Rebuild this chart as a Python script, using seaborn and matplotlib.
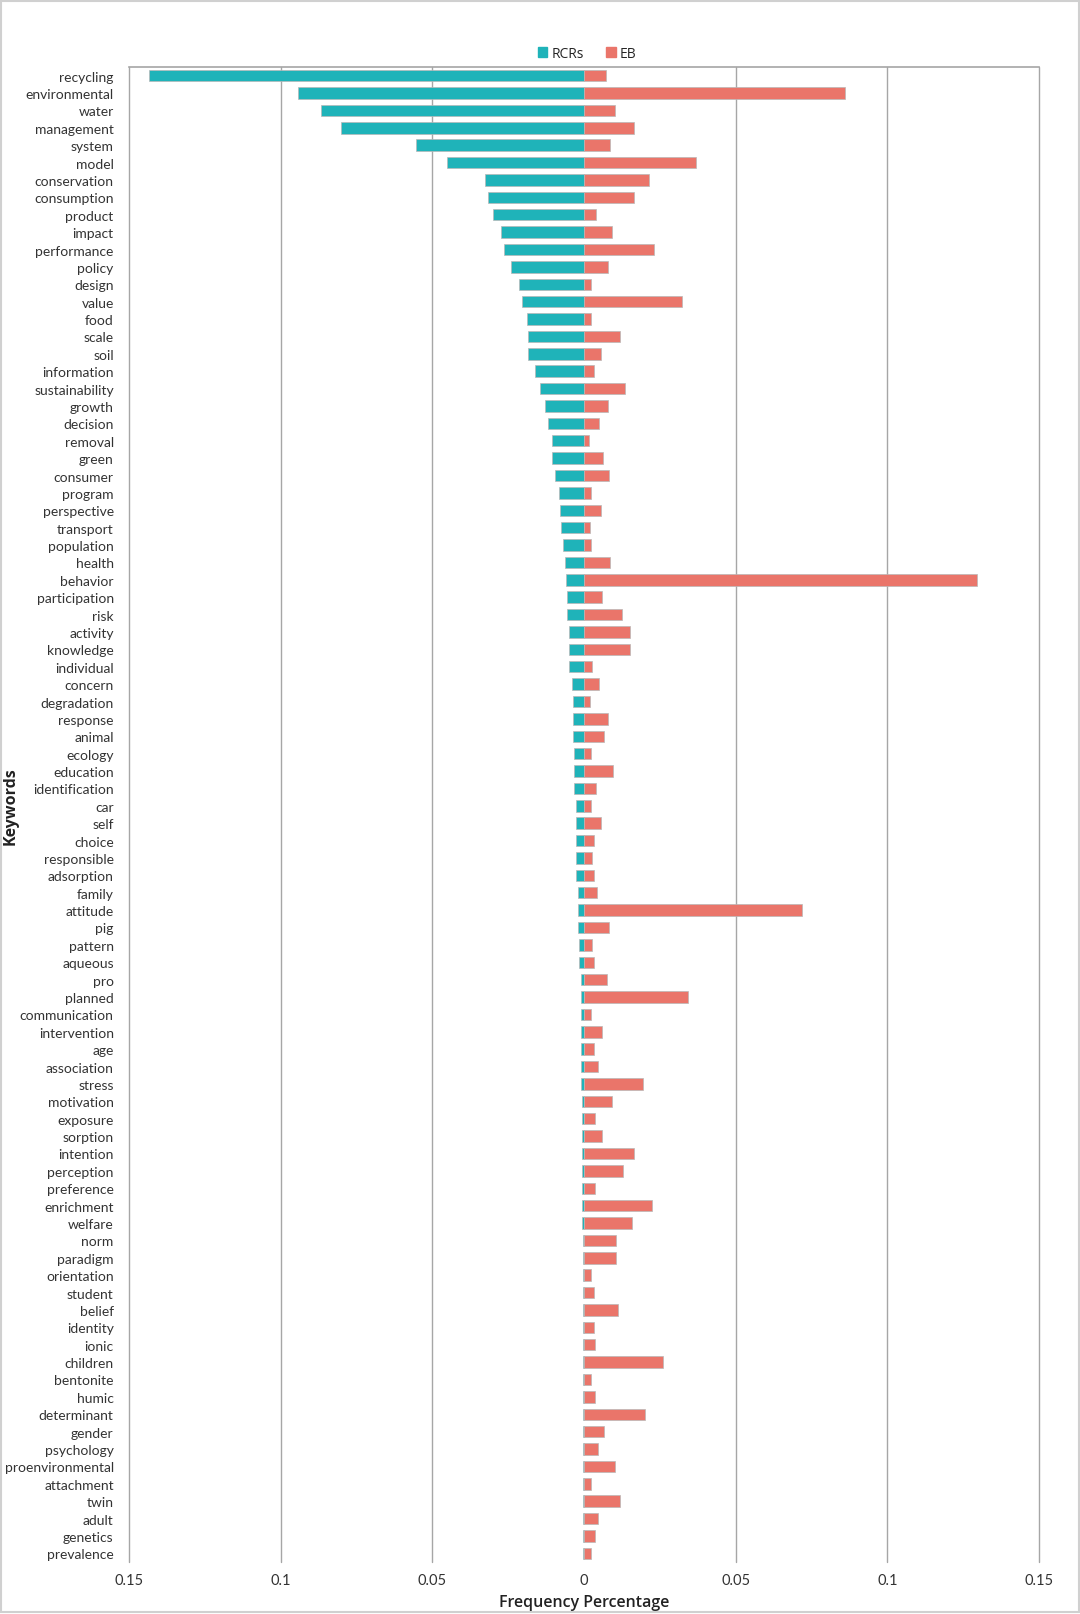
import matplotlib
matplotlib.use("Agg")
import matplotlib.pyplot as plt
import matplotlib.ticker as mticker
from matplotlib.patches import Rectangle
import seaborn as sns
import pandas as pd

keywords = ["recycling", "environmental", "water", "management", "system", "model",
            "conservation", "consumption", "product", "impact", "performance", "policy",
            "design", "value", "food", "scale", "soil", "information", "sustainability",
            "growth", "decision", "removal", "green", "consumer", "program", "perspective",
            "transport", "population", "health", "behavior", "participation", "risk",
            "activity", "knowledge", "individual", "concern", "degradation", "response",
            "animal", "ecology", "education", "identification", "car", "self", "choice",
            "responsible", "adsorption", "family", "attitude", "pig", "pattern", "aqueous",
            "pro", "planned", "communication", "intervention", "age", "association",
            "stress", "motivation", "exposure", "sorption", "intention", "perception",
            "preference", "enrichment", "welfare", "norm", "paradigm", "orientation",
            "student", "belief", "identity", "ionic", "children", "bentonite", "humic",
            "determinant", "gender", "psychology", "proenvironmental", "attachment", "twin",
            "adult", "genetics", "prevalence"]

rcrs = [0.1434, 0.0943, 0.0868, 0.0802, 0.0555, 0.0452, 0.0325, 0.0316, 0.0300, 0.0275,
        0.0264, 0.0241, 0.0214, 0.0205, 0.0189, 0.0184, 0.0184, 0.0161, 0.0145, 0.0130,
        0.0118, 0.0107, 0.0105, 0.0095, 0.0084, 0.0080, 0.0075, 0.0070, 0.0064, 0.0059,
        0.0057, 0.0057, 0.0050, 0.0050, 0.0050, 0.0039, 0.0036, 0.0036, 0.0036, 0.0032,
        0.0032, 0.0032, 0.0027, 0.0027, 0.0027, 0.0027, 0.0025, 0.0020, 0.0020, 0.0020,
        0.0016, 0.0016, 0.0011, 0.0011, 0.0011, 0.0011, 0.0011, 0.0011, 0.0011, 0.0007,
        0.0007, 0.0007, 0.0007, 0.0007, 0.0007, 0.0005, 0.0005, 0.0004, 0.0004, 0.0004,
        0.0004, 0.0004, 0.0004, 0.0004, 0.0004, 0.0004, 0.0004, 0.0004, 0.0004, 0.0004,
        0.0004, 0.0004, 0.0004, 0.0004, 0.0004, 0.0004]

eb = [0.0073, 0.0859, 0.0102, 0.0166, 0.0086, 0.0368, 0.0214, 0.0164, 0.0039, 0.0093,
      0.0232, 0.0080, 0.0023, 0.0323, 0.0023, 0.0118, 0.0055, 0.0032, 0.0136, 0.0080,
      0.0050, 0.0016, 0.0064, 0.0082, 0.0023, 0.0055, 0.0020, 0.0023, 0.0086, 0.1295,
      0.0059, 0.0125, 0.0152, 0.0152, 0.0025, 0.0050, 0.0020, 0.0080, 0.0066, 0.0023,
      0.0095, 0.0039, 0.0023, 0.0055, 0.0032, 0.0025, 0.0034, 0.0043, 0.0718, 0.0082,
      0.0025, 0.0034, 0.0077, 0.0343, 0.0023, 0.0059, 0.0032, 0.0045, 0.0195, 0.0093,
      0.0036, 0.0059, 0.0166, 0.0130, 0.0036, 0.0225, 0.0159, 0.0107, 0.0107, 0.0023,
      0.0034, 0.0111, 0.0034, 0.0036, 0.0261, 0.0023, 0.0036, 0.0202, 0.0066, 0.0045,
      0.0102, 0.0023, 0.0118, 0.0045, 0.0036, 0.0023]

xticks = [-0.15, -0.1, -0.05, 0, 0.05, 0.1, 0.15]
xtick_labels = ["0.15", "0.1", "0.05", "0", "0.05", "0.1", "0.15"]

TEAL = "#1FB3B9"
SALMON = "#EA756A"
GRID = "#A6A6A6"
EDGE = "#B8B8B8"

sns.set_theme(style="white")
plt.rcParams["font.family"] = ["Lato", "DejaVu Sans"]

df = pd.DataFrame({"keyword": keywords,
                   "RCRs": [-v for v in rcrs],
                   "EB": eb})

fig = plt.figure(figsize=(10.8, 16.15), dpi=100)
ax = fig.add_axes([129 / 1080, 1 - 1563 / 1615, (1039 - 129) / 1080, (1563 - 68) / 1615])

for x in xticks:
    if x != 0:
        ax.axvline(x, color=GRID, lw=1.0, zorder=0, clip_on=False)

sns.barplot(data=df, y="keyword", x="RCRs", orient="h", color=TEAL, width=0.66,
            saturation=1, edgecolor=EDGE, linewidth=0.5, ax=ax, zorder=2)
sns.barplot(data=df, y="keyword", x="EB", orient="h", color=SALMON, width=0.66,
            saturation=1, edgecolor=EDGE, linewidth=0.5, ax=ax, zorder=2)

ax.set_xlim(-0.15, 0.15)
ax.set_ylim(len(keywords) - 0.5, -0.5)
ax.xaxis.set_major_locator(mticker.FixedLocator(xticks))
ax.xaxis.set_major_formatter(mticker.FixedFormatter(xtick_labels))
ax.tick_params(axis="x", labelsize=10.5, length=0, pad=8, colors="#333333")
ax.tick_params(axis="y", labelsize=10, length=0, pad=11, colors="#333333")

for s in ["left", "right", "bottom"]:
    ax.spines[s].set_visible(False)
ax.spines["top"].set_color(GRID)
ax.spines["top"].set_linewidth(1.2)

ax.set_xlabel("Frequency Percentage", fontsize=11.5, fontweight="semibold",
              family=["Open Sans", "DejaVu Sans"], color="#222222", labelpad=5)
ax.set_ylabel("")
fig.text(11 / 1080, 1 - 806 / 1615, "Keywords", rotation=90, ha="center", va="center",
         fontsize=11.5, fontweight="bold", family=["Open Sans", "DejaVu Sans"], color="#222222")

handles = [Rectangle((0, 0), 1, 1, color=TEAL), Rectangle((0, 0), 1, 1, color=SALMON)]
fig.legend(handles, ["RCRs", "EB"], loc="center", bbox_to_anchor=(587 / 1080, 1 - 54 / 1615),
           ncol=2, frameon=False, handlelength=0.7, handleheight=0.7, handletextpad=0.3,
           columnspacing=1.6, prop={"family": ["Open Sans", "DejaVu Sans"], "size": 10})

fig.patches.append(Rectangle((0.001, 0.001), 0.998, 0.998, transform=fig.transFigure,
                             fill=False, edgecolor="#D0D0D0", lw=1.5))

fig.savefig("out.png", dpi=100, facecolor="white")
